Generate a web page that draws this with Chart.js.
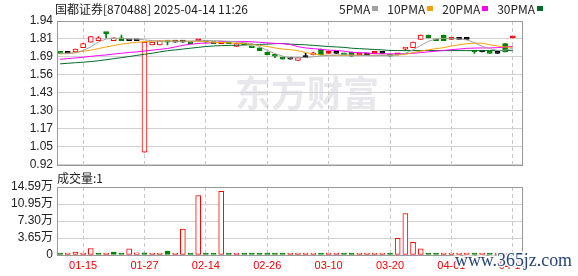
<!DOCTYPE html>
<html>
<head>
<meta charset="utf-8">
<script src="https://cdn.jsdelivr.net/npm/chart.js@4"></script>
<style>
body { margin: 0; background: #fff; }
#wrap { position: relative; width: 578px; height: 276px; overflow: hidden; }
canvas { position: absolute; left: 0; }
#volChart { top: 166px; }
#priceChart { top: 0; }
</style>
</head>
<body>
<div id="wrap">
<canvas id="volChart" width="578" height="110"></canvas>
<canvas id="priceChart" width="578" height="176"></canvas>
</div>
<script>
const dates = ["01-10","01-13","01-14","01-15","01-16","01-17","01-20","01-21","01-22","01-23","01-24","01-27",
	"02-05","02-06","02-07","02-10","02-11","02-12","02-13","02-14","02-17","02-18","02-19","02-20","02-21","02-24","02-25","02-26","02-27","02-28",
	"03-03","03-04","03-05","03-06","03-07","03-10","03-11","03-12","03-13","03-14","03-17","03-18","03-19","03-20","03-21","03-24","03-25","03-26","03-27","03-28","03-31",
	"04-01","04-02","04-03","04-07","04-08","04-09","04-10","04-11","04-14"];

const open = [1.71,1.71,1.72,1.75,1.79,1.80,1.86,1.80,1.82,1.80, 1.80,1.01,1.77,1.77,1.80,1.79,1.79,1.78,1.80,1.79,
	1.78,1.78,1.78,1.76,1.77,1.75,1.75,1.72,1.69,1.68, 1.67,1.66,1.68,1.70,1.74,1.71,1.71,1.70,1.72,1.70,
	1.70,1.71,1.71,1.69,1.70,1.74,1.75,1.81,1.84,1.81, 1.84,1.81,1.81,1.81,1.72,1.72,1.71,1.71,1.78,1.82];
const high = [1.71,1.71,1.74,1.78,1.83,1.83,1.86,1.82,1.84,1.80, 1.80,1.79,1.79,1.80,1.80,1.79,1.80,1.78,1.80,1.79,
	1.78,1.79,1.78,1.78,1.77,1.75,1.75,1.72,1.69,1.68, 1.67,1.68,1.71,1.72,1.74,1.72,1.71,1.70,1.72,1.70,
	1.70,1.71,1.71,1.69,1.70,1.75,1.79,1.84,1.84,1.81, 1.84,1.81,1.81,1.81,1.73,1.72,1.71,1.71,1.78,1.82];
const low = [1.71,1.71,1.72,1.75,1.79,1.80,1.82,1.80,1.80,1.80, 1.80,1.01,1.77,1.77,1.77,1.79,1.79,1.78,1.80,1.79,
	1.78,1.78,1.78,1.76,1.77,1.75,1.73,1.70,1.68,1.67, 1.67,1.66,1.68,1.70,1.70,1.71,1.71,1.70,1.69,1.70,
	1.70,1.71,1.71,1.69,1.70,1.73,1.75,1.81,1.82,1.80, 1.80,1.81,1.81,1.81,1.71,1.72,1.71,1.71,1.72,1.82];
const close = [1.71,1.71,1.74,1.78,1.83,1.82,1.85,1.82,1.80,1.80, 1.80,1.79,1.79,1.80,1.79,1.79,1.79,1.78,1.80,1.79,
	1.78,1.79,1.78,1.78,1.77,1.75,1.73,1.70,1.69,1.67, 1.67,1.68,1.68,1.71,1.70,1.71,1.71,1.70,1.69,1.70,
	1.70,1.71,1.71,1.69,1.70,1.75,1.79,1.84,1.82,1.80, 1.80,1.81,1.81,1.81,1.72,1.72,1.71,1.71,1.72,1.82];
const prevClose = 1.72; // close of the day before the window

const ma5 = [1.711,1.711,1.714,1.731,1.756,1.791,1.812,1.817,1.817,1.812, 1.812,1.806,1.801,1.798,1.796,1.796,1.796,1.798,1.799,1.801,
	1.801,1.799,1.796,1.791,1.786,1.781,1.759,1.731,1.709,1.691, 1.678,1.680,1.682,1.686,1.692,1.696,1.698,1.700,1.698,1.696,
	1.695,1.694,1.695,1.696,1.700,1.711,1.736,1.766,1.796,1.812, 1.817,1.817,1.812,1.806,1.786,1.761,1.743,1.731,1.733,1.746];
const ma10 = [1.707,1.709,1.716,1.725,1.733,1.744,1.756,1.766,1.776,1.783, 1.789,1.793,1.797,1.800,1.800,1.798,1.797,1.796,1.796,1.794,
	1.789,1.787,1.785,1.783,1.779,1.775,1.767,1.759,1.749,1.741, 1.737,1.729,1.716,1.706,1.699,1.697,1.697,1.697,1.697,1.697,
	1.697,1.697,1.697,1.697,1.699,1.703,1.716,1.726,1.736,1.744, 1.751,1.763,1.771,1.779,1.783,1.783,1.771,1.763,1.756,1.753];
const ma20 = [1.669,1.673,1.678,1.683,1.689,1.695,1.699,1.706,1.711,1.717, 1.721,1.727,1.733,1.739,1.745,1.756,1.767,1.775,1.781,1.783,
	1.786,1.793,1.795,1.795,1.795,1.793,1.789,1.785,1.781,1.779, 1.773,1.758,1.749,1.744,1.739,1.733,1.731,1.726,1.718,1.716,
	1.713,1.708,1.707,1.707,1.707,1.709,1.711,1.716,1.721,1.726, 1.731,1.737,1.741,1.746,1.748,1.749,1.749,1.751,1.756,1.759];
const ma30 = [1.636,1.640,1.644,1.648,1.652,1.658,1.665,1.673,1.680,1.688, 1.696,1.704,1.711,1.721,1.729,1.735,1.741,1.747,1.753,1.759,
	1.763,1.765,1.767,1.768,1.770,1.772,1.774,1.776,1.779,1.781, 1.776,1.773,1.771,1.767,1.763,1.759,1.756,1.753,1.747,1.744,
	1.741,1.738,1.735,1.731,1.730,1.730,1.730,1.730,1.730,1.730, 1.730,1.730,1.730,1.730,1.730,1.730,1.730,1.730,1.730,1.730];

// volume in 万
const volume = [0.1,0.1,0.6,0.1,1.4,0.1,0.1,0.65,0.1,1.3, 0.45,0.45,0.1,0.1,0.85,0.1,5.55,0.1,12.75,0.1,
	0.1,13.67,0.1,0.1,0.1,0.1,0.1,0.1,0.1,0.1, 0.4,0.1,0.1,0.4,0.1,0.1,0.1,0.1,0.1,0.1,
	0.1,0.1,0.1,0.1,3.6,8.9,2.7,1.3,0.4,0.1, 0.1,0.1,0.1,0.1,0.4,0.1,0.1,0.1,0.1,0.1];

const dateTicks = [3, 11, 19, 27, 35, 43, 51, 59];
const priceMin = 0.92, priceMax = 1.94;
const priceTickLabels = ["0.92","1.05","1.17","1.30","1.43","1.56","1.69","1.81","1.94"];
const volMax = 14.59;
const volTickLabels = ["0","3.65万","7.30万","10.95万","14.59万"];
const maNames = ["5PMA", "10PMA", "20PMA", "30PMA"];

const UP = "#ff0000", DOWN = "#008000", FLAT = "#000000";
const maColors = ["#a0a0a0", "#f5a200", "#ff00ff", "#006b2b"];
const numFont = '"Liberation Sans", "Noto Sans CJK SC", sans-serif';
const cjkFont = '"Noto Sans CJK SC", sans-serif';

Chart.defaults.color = "#222";
Chart.defaults.font.family = numFont;
Chart.defaults.font.size = 12;

const candleColor = close.map((c, i) => {
	if (c > open[i]) return UP;
	if (c < open[i]) return DOWN;
	const prev = i ? close[i - 1] : prevClose;
	return c > prev ? UP : c < prev ? DOWN : FLAT;
});
const volUp = close.map((c, i) => c >= (i ? close[i - 1] : prevClose));

const priceTicks = priceTickLabels.map((_, i) => priceMin + i * (priceMax - priceMin) / (priceTickLabels.length - 1));
const volTicks = volTickLabels.map((_, i) => i * volMax / (volTickLabels.length - 1));

const frame = {
	id: "frame",
	afterDraw(chart) {
		const { ctx, chartArea: a } = chart;
		ctx.save();
		ctx.strokeStyle = "#999";
		ctx.lineWidth = 1;
		ctx.strokeRect(Math.round(a.left) + 0.5, Math.round(a.top) + 0.5, Math.round(a.right - a.left), Math.round(a.bottom - a.top));
		ctx.restore();
	},
};

const watermark = {
	id: "watermark",
	beforeDraw(chart) {
		const ctx = chart.ctx;
		ctx.save();
		ctx.fillStyle = "#e8e8ec";
		ctx.font = "bold 36px " + cjkFont;
		ctx.textBaseline = "middle";
		ctx.fillText("东方财富", 235, 93);
		ctx.restore();
	},
};

const header = {
	id: "header",
	afterDraw(chart) {
		const ctx = chart.ctx;
		ctx.save();
		ctx.fillStyle = "#222";
		ctx.font = "12px " + cjkFont;
		ctx.textBaseline = "middle";
		ctx.fillText("国都证券[870488] 2025-04-14 11:26", 55, 9, 197);
		let x = 339;
		maNames.forEach((name, k) => {
			ctx.fillStyle = "#222";
			ctx.fillText(name, x, 9);
			const w = ctx.measureText(name).width;
			ctx.fillStyle = maColors[k];
			ctx.fillRect(Math.round(x + w + 2), 6, 6, 5);
			x += w + 17;
		});
		ctx.restore();
	},
};

const volHeader = {
	id: "volHeader",
	afterDraw(chart) {
		const ctx = chart.ctx;
		ctx.save();
		ctx.fillStyle = "#222";
		ctx.font = "12px " + cjkFont;
		ctx.textBaseline = "middle";
		ctx.fillText("成交量:1", 57, 12);
		ctx.font = "18px \"Liberation Serif\", serif";
		ctx.lineWidth = 3;
		ctx.strokeStyle = "#fff";
		ctx.strokeText("www.365jz.com", 455, 95, 117);
		ctx.fillStyle = "#25467a";
		ctx.fillText("www.365jz.com", 455, 95, 117);
		ctx.restore();
	},
};

function xAxis(showLabels) {
	return {
		type: "linear",
		min: -0.4,
		max: 60.2,
		offset: false,
		afterBuildTicks: (s) => { s.ticks = dateTicks.map((v) => ({ value: v })); },
		afterFit: (s) => { s.height = showLabels ? 21 : 0; },
		ticks: {
			display: showLabels,
			autoSkip: false,
			maxRotation: 0,
			padding: 4,
			color: "#ff0000",
			font: { size: 11 },
			callback: (v) => dates[v],
		},
		grid: { color: "#c8c8c8", offset: false, drawTicks: false },
		border: { display: false, dash: [4, 3] },
	};
}

function yAxis(min, max, tickValues, tickLabels) {
	return {
		min: min,
		max: max,
		afterBuildTicks: (s) => { s.ticks = tickValues.map((v) => ({ value: v })); },
		afterFit: (s) => { s.width = 57; },
		ticks: { padding: 4, autoSkip: false, callback: (v, i) => tickLabels[i] },
		grid: { color: "#d0d0d0", drawTicks: false },
		border: { display: false },
	};
}

function lineSet(values, color) {
	return {
		type: "line",
		data: values.map((v, i) => ({ x: i, y: v })),
		borderColor: color,
		borderWidth: 1,
		pointRadius: 0,
		tension: 0,
	};
}

new Chart(document.getElementById("priceChart"), {
	type: "bar",
	data: {
		datasets: [
			lineSet(ma5, maColors[0]),
			lineSet(ma10, maColors[1]),
			lineSet(ma20, maColors[2]),
			lineSet(ma30, maColors[3]),
			{
				data: open.map((o, i) => ({ x: i, y: [Math.min(o, close[i]), Math.max(o, close[i])] })),
				backgroundColor: open.map((o, i) => (close[i] > o ? "#ffffff" : candleColor[i])),
				borderColor: candleColor,
				borderWidth: 1,
				borderSkipped: false,
				barThickness: 5,
				minBarLength: 2,
				grouped: false,
			},
			{
				data: low.map((l, i) => ({ x: i, y: [l, high[i]] })),
				backgroundColor: candleColor,
				barThickness: 1,
				grouped: false,
			},
		],
	},
	options: {
		responsive: false,
		animation: false,
		devicePixelRatio: 1,
		events: [],
		layout: { padding: { top: 21, right: 56, bottom: 11, left: 0 } },
		plugins: { legend: { display: false }, tooltip: { enabled: false } },
		scales: {
			x: xAxis(false),
			y: yAxis(priceMin, priceMax, priceTicks, priceTickLabels),
		},
	},
	plugins: [watermark, frame, header],
});

new Chart(document.getElementById("volChart"), {
	type: "bar",
	data: {
		datasets: [
			{
				data: volume.map((v, i) => ({ x: i, y: v })),
				backgroundColor: volUp.map((u) => (u ? "#ffffff" : DOWN)),
				borderColor: volUp.map((u) => (u ? UP : DOWN)),
				borderWidth: 1,
				borderSkipped: false,
				barThickness: 5,
				minBarLength: 2,
				grouped: false,
			},
		],
	},
	options: {
		responsive: false,
		animation: false,
		devicePixelRatio: 1,
		events: [],
		layout: { padding: { top: 21, right: 56, bottom: 0, left: 0 } },
		plugins: { legend: { display: false }, tooltip: { enabled: false } },
		scales: {
			x: xAxis(true),
			y: yAxis(0, volMax, volTicks, volTickLabels),
		},
	},
	plugins: [frame, volHeader],
});
</script>
</body>
</html>
